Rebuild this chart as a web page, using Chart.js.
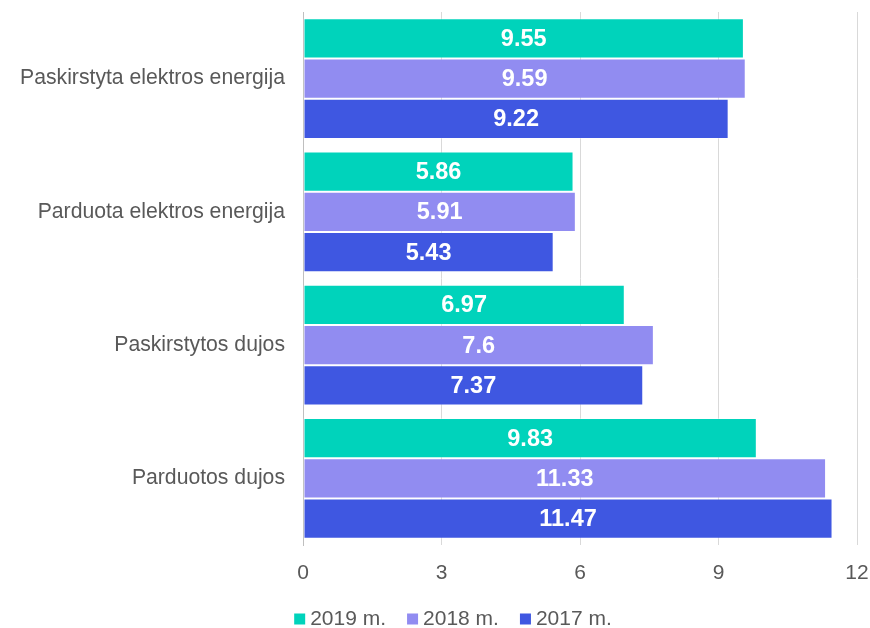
<!DOCTYPE html>
<html><head><meta charset="utf-8">
<script src="https://cdn.jsdelivr.net/npm/chart.js@4"></script>
<style>html,body{margin:0;padding:0;background:#fff}#wrap{width:870px;height:628px}</style>
</head><body><div id="wrap"><canvas id="c" width="870" height="628"></canvas></div>
<script>
const categories = ["Paskirstyta elektros energija","Parduota elektros energija","Paskirstytos dujos","Parduotos dujos"];
const seriesNames = ["2019 m.","2018 m.","2017 m."];
const values2019 = [9.55, 5.86, 6.97, 9.83];
const values2018 = [9.59, 5.91, 7.6, 11.33];
const values2017 = [9.22, 5.43, 7.37, 11.47];
const colors = ["#00D3BB","#918CF1","#3F57E1"];
const FONT = '"Liberation Sans", Arial, sans-serif';

const labelPlugin = {
  id:'barLabels',
  afterDatasetsDraw(chart){
    const ctx = chart.ctx;
    ctx.save();
    ctx.font = 'bold 23.5px ' + FONT;
    ctx.fillStyle = '#fff';
    ctx.textAlign = 'center';
    ctx.textBaseline = 'middle';
    chart.data.datasets.forEach((ds,i)=>{
      chart.getDatasetMeta(i).data.forEach((bar,j)=>{
        ctx.fillText(String(ds.data[j]), (bar.base+bar.x)/2, bar.y+1);
      });
    });
    ctx.restore();
  }
};

const legendPlugin = {
  id:'customLegend',
  afterDraw(chart){
    const ctx = chart.ctx;
    ctx.save();
    ctx.font = '21px ' + FONT;
    ctx.textBaseline = 'middle';
    const box = 11, gapText = 5, gapItem = 21, cy = 619, cx = 453;
    const items = chart.data.datasets.map(ds=>({t:ds.label, c:ds.backgroundColor, w:ctx.measureText(ds.label).width}));
    const total = items.reduce((a,it)=>a+box+gapText+it.w,0) + gapItem*(items.length-1);
    let x = cx - total/2;
    items.forEach(it=>{
      ctx.fillStyle = it.c;
      ctx.fillRect(x, cy-box/2, box, box);
      x += box + gapText;
      ctx.fillStyle = '#595959';
      ctx.textAlign = 'left';
      ctx.fillText(it.t, x, cy);
      x += it.w + gapItem;
    });
    ctx.restore();
  }
};

const sets = [values2019, values2018, values2017];
new Chart(document.getElementById('c'), {
  type:'bar',
  data:{
    labels:categories,
    datasets: sets.map((d,i)=>({label:seriesNames[i], data:d, backgroundColor:colors[i],
      borderColor:'rgba(255,255,255,0.35)', borderWidth:1, borderSkipped:false,
      categoryPercentage:0.9075, barPercentage:1.0}))
  },
  options:{
    indexAxis:'y',
    responsive:false,
    animation:false,
    layout:{padding:{top:12,right:13,bottom:0,left:0}},
    plugins:{
      legend:{display:false},
      tooltip:{enabled:false}
    },
    scales:{
      x:{min:0,max:12,ticks:{stepSize:3,color:'#595959',font:{size:21,family:FONT},padding:16},
         grid:{color:'#d9d9d9',lineWidth:1,tickLength:0,drawTicks:false},border:{display:false},
         afterFit(s){s.height=83; s.paddingLeft=0; s.paddingRight=0;}},
      y:{ticks:{color:'#595959',font:{size:21.2,family:FONT},padding:10},
         grid:{display:false},border:{color:'#bfbfbf',width:1},
         afterFit(s){s.width=303; s.paddingTop=0; s.paddingBottom=0;}}
    }
  },
  plugins:[labelPlugin, legendPlugin]
});
</script></body></html>
